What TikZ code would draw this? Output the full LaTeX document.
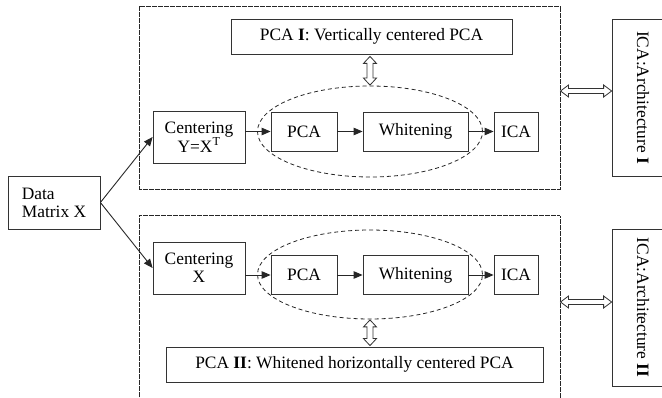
\documentclass[tikz,border=0pt]{standalone}
\usepackage{fontspec}
\setmainfont{Liberation Serif}
\usetikzlibrary{arrows.meta,shapes.geometric,calc}
\newcommand\harrow[3]{%
  \draw[hollow] let \p1=(#1 |- #3), \p2=(#2 |- #3) in
    (\x1,\y1) -- ++(8pt,6pt) -- ++(0pt,-3.5pt) -- (\x2-8pt,\y1+2.5pt) -- ++(0pt,3.5pt)
    -- (\x2,\y1) -- ++(-8pt,-6pt) -- ++(0pt,3.5pt) -- (\x1+8pt,\y1-2.5pt) -- ++(0pt,-3.5pt) -- cycle;}
\newcommand\varrow[2]{%
  \draw[hollow] let \p1=(#1), \p2=(#2) in
    (\x1,\y1) -- ++(6.5pt,-7pt) -- ++(-3.5pt,0pt) -- (\x1+3pt,\y2+7pt) -- ++(3.5pt,0pt)
    -- (\x1,\y2) -- ++(-6.5pt,7pt) -- ++(3.5pt,0pt) -- (\x1-3pt,\y1-7pt) -- ++(-3.5pt,0pt) -- cycle;}
\begin{document}
\begin{tikzpicture}[x=1pt,y=-1pt,
  every node/.style={font=\fontsize{17.4}{18}\selectfont},
  box/.style={draw=black!80, line width=0.8pt, inner sep=0pt, align=center},
  frame/.style={draw=black!85, line width=1pt, dash pattern=on 0.8pt off 0.4pt, inner sep=0pt},
  oval/.style={draw=black!85, ellipse, line width=0.8pt, dash pattern=on 4pt off 3pt, inner sep=0pt},
  flow/.style={draw=black!85, line width=0.9pt, -{Triangle[length=9pt,width=7.5pt]}},
  hollow/.style={draw=black!80, line width=0.8pt, fill=white, line join=miter},
]
\useasboundingbox (0,0) rectangle (662,398);
\clip (0,0) rectangle (662,398);

% frames
\node[frame, minimum width=421, minimum height=183] (f1) at (349.5,98.5) {};
\node[frame, minimum width=421, minimum height=210] (f2) at (349.5,321) {};

% data
\node[box, align=left, minimum width=92, minimum height=53] (data) at (54,202.5) {Data\\Matrix X};

% top row
\node[box, minimum width=281, minimum height=35] (p1) at (371.5,36.5) {PCA \textbf{I}: Vertically centered PCA};
\node[box, minimum width=92, minimum height=52] (c1) at (199,137) {Centering\\Y=X\textsuperscript{T}};
\node[box, minimum width=66, minimum height=39] (pca1) at (304,131.5) {PCA};
\node[box, minimum width=105, minimum height=39] (w1) at (415.5,131.5) {Whitening};
\node[box, minimum width=44, minimum height=39] (ica1) at (516,131.5) {ICA};
\node[oval, minimum width=225, minimum height=91] (e1) at (370,131.5) {};
\node[box, minimum width=62, minimum height=157] (a1) at (643,97.5) {\rotatebox{-90}{ICA:Architecture \textbf{I}}};

% bottom row
\node[box, minimum width=92, minimum height=52] (c2) at (199,268) {Centering\\X};
\node[box, minimum width=66, minimum height=39] (pca2) at (304,275) {PCA};
\node[box, minimum width=105, minimum height=39] (w2) at (415.5,275) {Whitening};
\node[box, minimum width=44, minimum height=39] (ica2) at (516,275) {ICA};
\node[oval, minimum width=225, minimum height=89] (e2) at (370,274.5) {};
\node[box, minimum width=377, minimum height=35] (p2) at (354.5,364.5) {PCA \textbf{II}: Whitened horizontally centered PCA};
\node[box, minimum width=62, minimum height=157] (a2) at (643,307.5) {\rotatebox{-90}{ICA:Architecture \textbf{II}}};

\coordinate (y1) at (0,91);
\coordinate (y2) at (0,302);
\coordinate (t1) at ([yshift=-2pt]e1.north |- p1.south);
\coordinate (b1) at ([yshift=0.5pt]e1.north);
\coordinate (t2) at ([yshift=-0.5pt]e2.south);
\coordinate (b2) at ([yshift=1pt]e2.south |- p2.north);

% connectors
\draw[flow] (data.east) -- (c1.west);
\draw[flow] (data.east) -- (c2.west);
\draw[flow] (c1.east |- pca1.west) -- (pca1.west);
\draw[flow] (pca1.east) -- (w1.west);
\draw[flow] (w1.east) -- (ica1.west);
\draw[flow] (c2.east |- pca2.west) -- (pca2.west);
\draw[flow] (pca2.east) -- (w2.west);
\draw[flow] (w2.east) -- (ica2.west);

\varrow{t1}{b1}
\varrow{t2}{b2}
\harrow{f1.east}{a1.west}{y1}
\harrow{f2.east}{a2.west}{y2}
\end{tikzpicture}
\end{document}
